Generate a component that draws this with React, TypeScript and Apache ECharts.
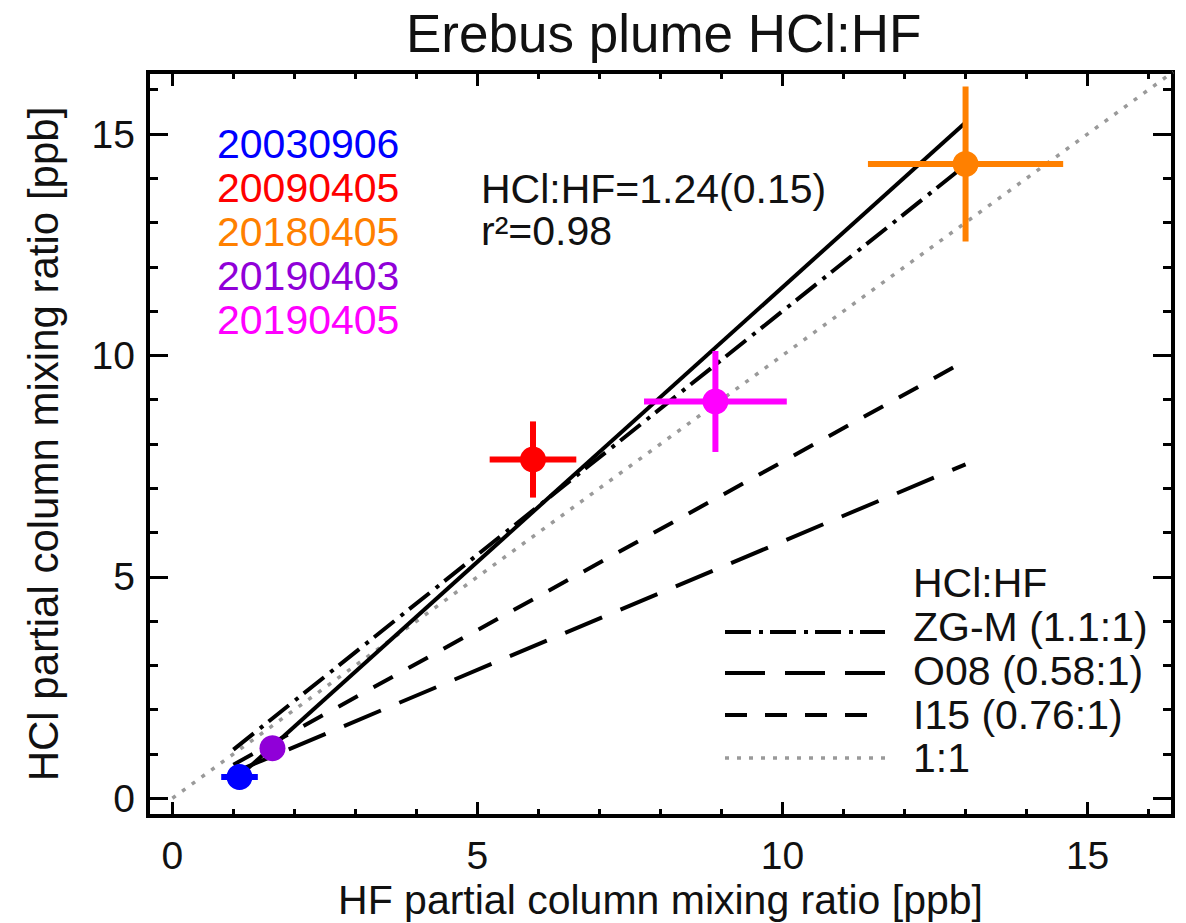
import { useEffect, useRef } from 'react';
import * as echarts from 'echarts';

// ---- data ----
const dates = ['20030906', '20090405', '20180405', '20190403', '20190405'];
const dateColors = ['#0000ff', '#ff0000', '#ff8000', '#9000d8', '#ff00ff'];
const hf = [1.1, 5.91, 13.0, 1.64, 8.9];
const hcl = [0.48, 7.65, 14.32, 1.13, 8.96];
const hfErr = [0.3, 0.71, 1.6, 0.15, 1.17];
const hclErr = [0.28, 0.86, 1.75, 0.2, 1.14];

const legendTitle = 'HCl:HF';
const refNames = ['ZG-M (1.1:1)', 'O08 (0.58:1)', 'I15 (0.76:1)', '1:1'];
const refRatios = [1.1, 0.58, 0.76, 1.0];
const refXRange = [1.0, 13.0];
const oneToOneXRange = [0, 16.4];

const fitSlope = 1.24;
const fitIntercept = -0.86;
const fitXRange = [1.1, 13.0];
const fitLabel = 'HCl:HF=1.24(0.15)';
const r2Label = 'r²=0.98';

const majorTicks = [0, 5, 10, 15];
const minorTicks = [1, 2, 3, 4, 6, 7, 8, 9, 11, 12, 13, 14, 16];
const axisMin = -0.4;
const axisMax = 16.4;

const FONT = "'Liberation Sans', Arial, Helvetica, sans-serif";
const TXT = '#111';

function tickAxis(position: string, values: number[], len: number, extra: any = {}) {
  return {
    type: 'value',
    gridIndex: 0,
    position,
    min: axisMin,
    max: axisMax,
    axisLine: { show: false, onZero: false },
    splitLine: { show: false },
    axisPointer: { show: false },
    axisTick: {
      show: true,
      inside: true,
      length: len,
      customValues: values,
      lineStyle: { color: '#000', width: 3 },
    },
    axisLabel: { show: false },
    ...extra,
  };
}

const refStyles: any[] = [
  { color: '#000', width: 4, type: [26, 8, 4, 7] },
  { color: '#000', width: 4, type: [40, 20] },
  { color: '#000', width: 4, type: [22, 18] },
  { color: '#9a9a9a', width: 3.5, type: [4, 8] },
];

export default function App() {
  const ref = useRef<HTMLDivElement>(null);
  useEffect(() => {
    const chart = echarts.init(ref.current!, null, { renderer: 'svg' });

    const refSeries = refNames.map((name, i) => {
      const xs = i === 3 ? oneToOneXRange : refXRange;
      return {
        name,
        type: 'line',
        xAxisIndex: 0,
        yAxisIndex: 0,
        symbol: 'none',
        silent: true,
        z: i === 3 ? 1 : 2,
        lineStyle: { ...refStyles[i], cap: 'butt' },
        data: xs.map((x) => [x, refRatios[i] * x]),
      };
    });

    const fitSeries = {
      name: 'fit',
      type: 'line',
      xAxisIndex: 0,
      yAxisIndex: 0,
      symbol: 'none',
      silent: true,
      z: 3,
      lineStyle: { color: '#000', width: 4, type: 'solid', cap: 'butt' },
      data: fitXRange.map((x) => [x, fitSlope * x + fitIntercept]),
    };

    const pointSeries = {
      name: 'points',
      type: 'custom',
      xAxisIndex: 0,
      yAxisIndex: 0,
      z: 5,
      silent: true,
      clip: false,
      data: hf.map((x, i) => [x, hcl[i], hfErr[i], hclErr[i], i]),
      renderItem: (params: any, api: any) => {
        const x = api.value(0);
        const y = api.value(1);
        const xe = api.value(2);
        const ye = api.value(3);
        const idx = api.value(4);
        const color = dateColors[idx];
        const l = api.coord([x - xe, y]);
        const r = api.coord([x + xe, y]);
        const t = api.coord([x, y + ye]);
        const b = api.coord([x, y - ye]);
        const c = api.coord([x, y]);
        return {
          type: 'group',
          children: [
            { type: 'line', shape: { x1: l[0], y1: l[1], x2: r[0], y2: r[1] }, style: { stroke: color, lineWidth: 6 } },
            { type: 'line', shape: { x1: t[0], y1: t[1], x2: b[0], y2: b[1] }, style: { stroke: color, lineWidth: 6 } },
            { type: 'circle', shape: { cx: c[0], cy: c[1], r: 13 }, style: { fill: color } },
          ],
        };
      },
    };

    const dateTexts = dates.map((d, i) => ({
      type: 'text',
      x: 217,
      y: 144 + i * 44,
      style: { text: d, fill: dateColors[i], font: `41px ${FONT}`, textAlign: 'left', textVerticalAlign: 'middle' },
    }));

    // legend (drawn as graphic: sample line + label)
    const legendLineY = [632, 673, 715, 758];
    const legendTextY = [627, 671, 715, 758];
    const legendItems: any[] = [];
    refNames.forEach((name, i) => {
      legendItems.push({
        type: 'line',
        shape: { x1: 725, y1: legendLineY[i], x2: 885, y2: legendLineY[i] },
        style: {
          stroke: refStyles[i].color,
          lineWidth: refStyles[i].width,
          lineDash: refStyles[i].type,
          lineCap: 'butt',
        },
      });
      legendItems.push({
        type: 'text',
        x: 913,
        y: legendTextY[i],
        style: { text: name, fill: TXT, font: `41px ${FONT}`, textAlign: 'left', textVerticalAlign: 'middle' },
      });
    });

    const option: any = {
      animation: false,
      backgroundColor: '#fff',
      title: {
        text: 'Erebus plume HCl:HF',
        left: 406,
        top: 7,
        padding: 0,
        textStyle: { fontSize: 53, fontWeight: 'normal', color: TXT, fontFamily: FONT },
      },
      grid: {
        left: 148,
        right: 13,
        top: 72,
        bottom: 107,
        containLabel: false,
        outerBoundsMode: 'none',
        show: true,
        borderColor: '#000',
        borderWidth: 4,
        backgroundColor: 'transparent',
      },
      xAxis: [
        tickAxis('bottom', majorTicks, 14, {
          axisLabel: { show: true, customValues: majorTicks, fontSize: 39, lineHeight: 39, color: TXT, fontFamily: FONT, margin: 20 },
          name: 'HF partial column mixing ratio [ppb]',
          nameLocation: 'middle',
          nameGap: 63,
          nameMoveOverlap: false,
          nameTextStyle: { fontSize: 41, lineHeight: 41, color: TXT, fontFamily: FONT },
        }),
        tickAxis('bottom', minorTicks, 7),
        tickAxis('top', majorTicks, 14),
        tickAxis('top', minorTicks, 7),
      ],
      yAxis: [
        tickAxis('left', majorTicks, 20, {
          axisLabel: { show: true, customValues: majorTicks, fontSize: 39, color: TXT, fontFamily: FONT, margin: 13 },
          name: 'HCl partial column mixing ratio [ppb]',
          nameLocation: 'middle',
          nameGap: 84,
          nameMoveOverlap: false,
          nameTextStyle: { fontSize: 42, color: TXT, fontFamily: FONT },
        }),
        tickAxis('left', minorTicks, 10),
        tickAxis('right', majorTicks, 20),
        tickAxis('right', minorTicks, 10),
      ],
      graphic: [
        {
          type: 'text',
          x: 913,
          y: 583,
          style: { text: legendTitle, fill: TXT, font: `41px ${FONT}`, textAlign: 'left', textVerticalAlign: 'middle' },
        },
        ...legendItems,
        {
          type: 'text',
          x: 481,
          y: 189,
          style: { text: fitLabel, fill: TXT, font: `41px ${FONT}`, textAlign: 'left', textVerticalAlign: 'middle' },
        },
        {
          type: 'text',
          x: 481,
          y: 231,
          style: { text: r2Label, fill: TXT, font: `41px ${FONT}`, textAlign: 'left', textVerticalAlign: 'middle' },
        },
        ...dateTexts,
      ],
      series: [...refSeries, fitSeries, pointSeries],
    };

    chart.setOption(option);
    return () => chart.dispose();
  }, []);

  return (
    <div
      ref={ref}
      style={{ position: 'fixed', left: 0, top: 0, width: 1186, height: 923, background: '#fff' }}
    />
  );
}
